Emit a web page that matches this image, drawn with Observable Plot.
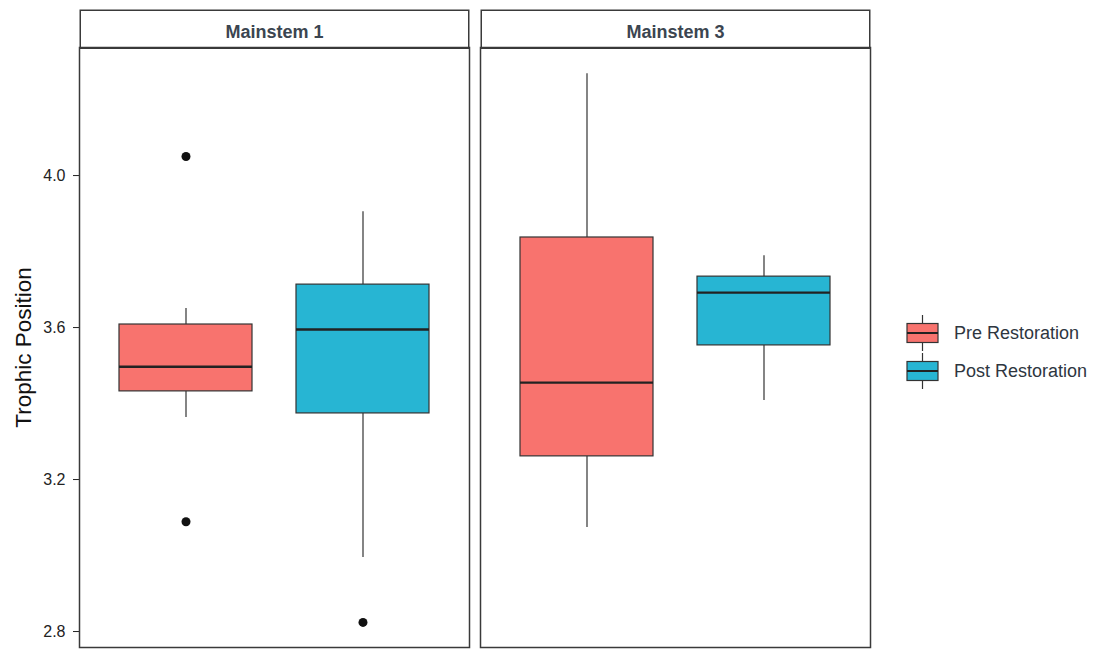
<!DOCTYPE html>
<html>
<head>
<meta charset="utf-8">
<script src="https://cdn.jsdelivr.net/npm/d3@7"></script>
<script src="https://cdn.jsdelivr.net/npm/@observablehq/plot@0.6"></script>
<style>
  html, body { margin: 0; padding: 0; background: #fff; }
  #wrap { position: relative; width: 1109px; height: 649px; font-family: "Liberation Sans", Arial, sans-serif; }
  #legend { position: absolute; left: 906px; top: 314px; color: #2e363f; font-size: 18px; }
  .item { display: flex; align-items: center; height: 38px; }
  .item svg { margin-right: 15px; }
</style>
</head>
<body>
<div id="wrap">
  <div id="chart"></div>
  <div id="legend"></div>
</div>
<script>
// ---- data ----
const panels   = ["Mainstem 1", "Mainstem 3"];
const groups   = ["Pre Restoration", "Post Restoration"];
const colors   = ["#F8736E", "#27B5D3"];

const boxFacet = ["Mainstem 1", "Mainstem 1", "Mainstem 3", "Mainstem 3"];
const boxGroup = ["Pre Restoration", "Post Restoration", "Pre Restoration", "Post Restoration"];
const whiskLo  = [3.363, 2.995, 3.074, 3.408];
const q1       = [3.432, 3.374, 3.261, 3.553];
const median   = [3.497, 3.595, 3.455, 3.692];
const q3       = [3.608, 3.713, 3.837, 3.734];
const whiskHi  = [3.650, 3.905, 4.268, 3.789];

const outFacet = ["Mainstem 1", "Mainstem 1", "Mainstem 1"];
const outGroup = ["Pre Restoration", "Pre Restoration", "Post Restoration"];
const outValue = [4.050, 3.089, 2.824];

const yTicks = [2.8, 3.2, 3.6, 4.0];

// ---- tables ----
const boxes = boxFacet.map((f, i) => ({
  facet: f, group: boxGroup[i], lo: whiskLo[i], q1: q1[i], med: median[i], q3: q3[i], hi: whiskHi[i]
}));
const outliers = outFacet.map((f, i) => ({facet: f, group: outGroup[i], value: outValue[i]}));

const chart = Plot.plot({
  width: 890,
  height: 649,
  marginLeft: 79,
  marginRight: 19,
  marginTop: 47,
  marginBottom: 2,
  style: {fontFamily: "'Liberation Sans', Arial, sans-serif", fontSize: "16px", color: "#222"},
  fx: {domain: panels, axis: "top", label: null, tickSize: 0, tickPadding: 10, paddingInner: 0.027, paddingOuter: 0},
  x: {domain: groups, axis: null, paddingInner: 0.25, paddingOuter: 0.225},
  y: {domain: [2.758, 4.337], ticks: yTicks, tickFormat: d3.format(".1f"), tickSize: 6, tickPadding: 8,
      label: "Trophic Position", labelAnchor: "center", labelOffset: 64, labelArrow: false},
  color: {domain: groups, range: colors},
  marks: [
    Plot.frame({stroke: "#3a3a3a", strokeWidth: 1.5}),
    Plot.ruleX(boxes, {fx: "facet", x: "group", y1: "lo", y2: "q1", stroke: "#333", strokeWidth: 1.2}),
    Plot.ruleX(boxes, {fx: "facet", x: "group", y1: "q3", y2: "hi", stroke: "#333", strokeWidth: 1.2}),
    Plot.barY(boxes, {fx: "facet", x: "group", y1: "q1", y2: "q3", fill: "group", stroke: "#333", strokeWidth: 1.2}),
    Plot.tickY(boxes, {fx: "facet", x: "group", y: "med", stroke: "#222", strokeWidth: 2.4}),
    Plot.dot(outliers, {fx: "facet", x: "group", y: "value", r: 4.5, fill: "#111", stroke: "none"})
  ]
});

document.getElementById("chart").appendChild(chart);

// strip boxes above each panel (drawn behind everything, from the frame positions)
const svgBox = chart.getBoundingClientRect();
const frameRects = [];
chart.querySelectorAll('[aria-label="frame"]').forEach(el => {
  const list = el.tagName.toLowerCase() === "rect" ? [el] : Array.from(el.querySelectorAll("rect"));
  list.forEach(r => {
    const b = r.getBoundingClientRect();
    const key = Math.round(b.left) + "," + Math.round(b.width);
    if (!frameRects.some(f => f.key === key)) frameRects.push({key, x: b.left - svgBox.left, y: b.top - svgBox.top, w: b.width});
  });
});
const stripG = d3.create("svg:g").attr("aria-label", "strips");
frameRects.forEach(f => {
  stripG.append("rect")
    .attr("x", f.x + 0.75).attr("y", f.y + 0.75 - 38).attr("width", f.w - 1.5).attr("height", 38)
    .attr("fill", "#fff").attr("stroke", "#3a3a3a").attr("stroke-width", 1.5);
});
chart.insertBefore(stripG.node(), chart.firstChild);

const svg = d3.select(chart);
svg.selectAll('[aria-label="fx-axis tick label"] text').attr("font-weight", "bold").attr("fill", "#3b4550").attr("font-size", "18px");
svg.selectAll('[aria-label="y-axis label"] text').attr("font-size", "22.5px").attr("fill", "#111");
svg.selectAll('[aria-label="y-axis tick"]').attr("stroke", "#777");
svg.selectAll('[aria-label="y-axis tick label"] text').attr("fill", "#222");

// legend (key glyphs)
const legend = d3.select("#legend");
groups.forEach((g, i) => {
  const item = legend.append("div").attr("class", "item");
  const s = item.append("svg").attr("width", 33).attr("height", 38);
  s.append("line").attr("x1", 16.5).attr("x2", 16.5).attr("y1", 1).attr("y2", 37).attr("stroke", "#333").attr("stroke-width", 1.2);
  s.append("rect").attr("x", 1).attr("y", 9.5).attr("width", 31).attr("height", 19)
    .attr("fill", colors[i]).attr("stroke", "#333").attr("stroke-width", 1.2);
  s.append("line").attr("x1", 1).attr("x2", 32).attr("y1", 19).attr("y2", 19).attr("stroke", "#222").attr("stroke-width", 2);
  item.append("span").text(g);
});
</script>
</body>
</html>
